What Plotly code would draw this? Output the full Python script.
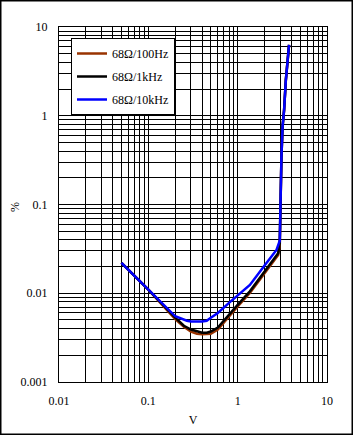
import plotly.graph_objects as go

# ---- data ----
x_100hz = [0.05, 0.1, 0.2, 0.25, 0.3, 0.35, 0.4, 0.45, 0.5, 0.6, 0.8, 1.0, 1.37, 2.0, 2.5, 2.84, 2.96,
           3.0, 3.09, 3.18, 3.31, 3.46, 3.57, 3.76]
y_100hz = [0.022, 0.011, 0.0051, 0.0042, 0.0037, 0.0035, 0.00345, 0.00345, 0.0035, 0.0039, 0.0055,
           0.0071, 0.0101, 0.0168, 0.0225, 0.027, 0.035,
           0.10, 0.345, 0.75, 1.16, 2.5, 3.9, 6.3]

x_1khz = [0.05, 0.1, 0.2, 0.25, 0.3, 0.35, 0.4, 0.45, 0.5, 0.6, 0.8, 1.0, 1.37, 2.0, 2.5, 2.84, 2.96,
          3.0, 3.09, 3.18, 3.31, 3.46, 3.57, 3.76]
y_1khz = [0.022, 0.011, 0.0053, 0.0043, 0.0039, 0.0037, 0.0036, 0.0036, 0.0037, 0.0041, 0.0058,
          0.0074, 0.0105, 0.0175, 0.0235, 0.0282, 0.037,
          0.10, 0.345, 0.75, 1.16, 2.5, 3.9, 6.3]

x_10khz = [0.05, 0.1, 0.2, 0.27, 0.3, 0.4, 0.45, 0.5, 0.6, 0.8, 1.0, 1.37, 2.0, 2.72, 2.96,
           3.0, 3.09, 3.18, 3.31, 3.46, 3.57, 3.76]
y_10khz = [0.022, 0.011, 0.0055, 0.0049, 0.0048, 0.0048, 0.0049, 0.0053, 0.006, 0.0078, 0.0095,
           0.0124, 0.0205, 0.0308, 0.039,
           0.10, 0.345, 0.75, 1.16, 2.5, 3.9, 6.3]

names = ["68Ω/100Hz", "68Ω/1kHz", "68Ω/10kHz"]
colors = ["#993300", "#000000", "#0000FF"]

x_ticks = [0.01, 0.1, 1, 10]
x_labels = ["0.01", "0.1", "1", "10"]
y_ticks = [0.001, 0.01, 0.1, 1, 10]
y_labels = ["0.001", "0.01", "0.1", "1", "10"]
x_title = "V"
y_title = "%"

FONT = "Liberation Serif"

fig = go.Figure()
for i, (xs, ys) in enumerate([(x_100hz, y_100hz), (x_1khz, y_1khz), (x_10khz, y_10khz)]):
    fig.add_trace(go.Scatter(x=xs, y=ys, mode="lines", name=names[i],
                             line=dict(color=colors[i], width=2.5),
                             legendgroup="g%d" % i))

axis_common = dict(
    type="log", showgrid=True, gridcolor="black", gridwidth=1,
    showline=True, linecolor="black", linewidth=1, mirror=True,
    ticks="", zeroline=False, automargin=False,
    tickfont=dict(family=FONT, size=12, color="black"),
    minor=dict(dtick="D1", showgrid=True, gridcolor="black", gridwidth=1, ticks=""),
)

fig.update_xaxes(range=[-2, 1], tickvals=x_ticks, ticktext=x_labels,
                 title=dict(text=x_title, font=dict(family=FONT, size=12, color="black"), standoff=8),
                 ticklabelstandoff=8, **axis_common)
fig.update_yaxes(range=[-3, 1], tickvals=y_ticks, ticktext=y_labels,
                 ticklabelstandoff=8, **axis_common)

fig.add_annotation(text=y_title, xref="paper", yref="paper",
                   x=(15 - 59) / 268, y=(382 - 207) / 355, xanchor="center", yanchor="middle",
                   textangle=-90, showarrow=False,
                   font=dict(family=FONT, size=12, color="black"))

fig.add_shape(type="rect", xref="paper", yref="paper",
              x0=(0.75 - 59) / 268, x1=(352.25 - 59) / 268,
              y0=(382 - 434.25) / 355, y1=(382 - 0.75) / 355,
              line=dict(color="black", width=1.5), fillcolor="rgba(0,0,0,0)", layer="above")

fig.update_layout(
    width=353, height=435,
    margin=dict(l=59, r=26, t=27, b=53),
    paper_bgcolor="white", plot_bgcolor="white",
    font=dict(family=FONT, size=12, color="black"),
    showlegend=True,
    legend=dict(x=(71 - 59) / 268, y=(382 - 38) / 355, xanchor="left", yanchor="top",
                bgcolor="white", bordercolor="black", borderwidth=1,
                font=dict(family=FONT, size=12, color="black"),
                tracegroupgap=4, itemwidth=30),
)

fig.write_html("out.html")
